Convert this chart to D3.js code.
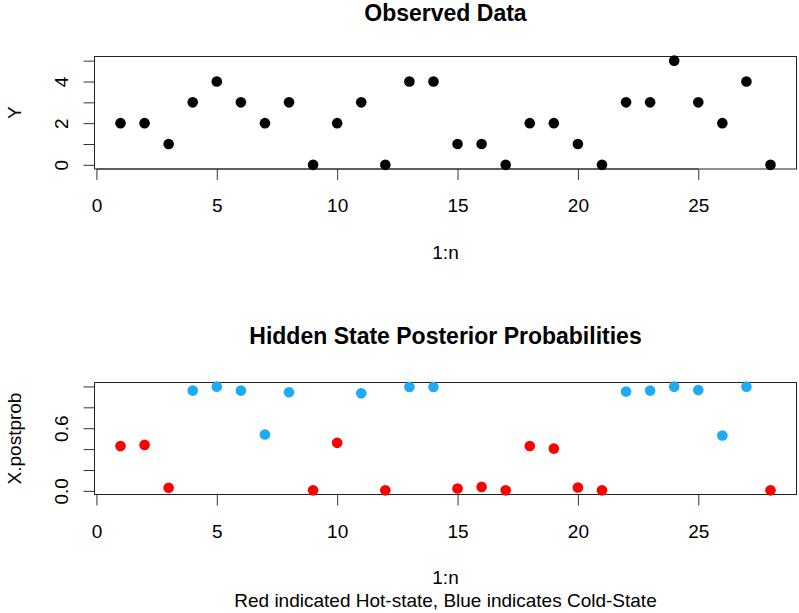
<!DOCTYPE html>
<html>
<head>
<meta charset="utf-8">
<title>Observed Data / Hidden State Posterior Probabilities</title>
<style>
body {
  margin: 0;
  background: #fff;
  font-family: "Liberation Sans", Arial, sans-serif;
}

svg {
  display: block;
}

.axis path, .axis line {
  stroke: #333;
  stroke-width: 1px;
}

.axis text {
  font-size: 19px;
  fill: #000;
}

.frame {
  fill: none;
  stroke: #222;
  stroke-width: 1px;
}
</style>
<script src="https://d3js.org/d3.v7.min.js"></script>
</head>
<body>
<script>
// observed emissions, t = 1..n
const obsY = [2, 2, 1, 3, 4, 3, 2, 3, 0, 2, 3, 0, 4, 4, 1, 1, 0, 2, 2, 1, 0, 3, 3, 5, 3, 2, 4, 0];

// posterior prob of decoded state
const postProb = [0.43, 0.44, 0.03, 0.96, 0.998, 0.96, 0.54, 0.945, 0.005, 0.46,
  0.935, 0.005, 0.995, 0.995, 0.023, 0.038, 0.005, 0.43, 0.405, 0.032,
  0.005, 0.952, 0.96, 0.998, 0.965, 0.53, 0.998, 0.005];

// decoded state: H = hot (red), C = cold (blue)
const states = ['H', 'H', 'H', 'C', 'C', 'C', 'C', 'C', 'H', 'H',
  'C', 'H', 'C', 'C', 'H', 'H', 'H', 'H', 'H', 'H',
  'H', 'C', 'C', 'C', 'C', 'C', 'C', 'H'];

const xTicks = [0, 5, 10, 15, 20, 25];
const yTicksTop = [0, 1, 2, 3, 4, 5];
const yLabelsTop = [0, 2, 4];
const yTicksBot = [0, 0.2, 0.4, 0.6, 0.8, 1.0];
const yLabelsBot = [0, 0.6];

const stateColor = { H: '#ff0000', C: '#1faaf3' };

const width = 799,
  height = 613,
  left = 94.5,
  right = 796.5,
  tickLen = 11,
  dotR = 5.3;

const svg = d3.select('body').append('svg')
  .attr('width', width)
  .attr('height', height);

const n = obsY.length;
const idx = d3.range(1, n + 1);

// R style axis range: data extent padded 4% each side
function rRange(vals) {
  const [lo, hi] = d3.extent(vals);
  const pad = (hi - lo) * 0.04;
  return [lo - pad, hi + pad];
}

const x = d3.scaleLinear().domain(rRange(idx)).range([left, right]);

function panel(opts) {
  const y = d3.scaleLinear().domain(rRange(opts.values)).range([opts.bottom, opts.top]);
  const g = svg.append('g');

  // x axis
  g.append('g')
    .attr('class', 'axis')
    .attr('transform', 'translate(0,' + opts.bottom + ')')
    .call(d3.axisBottom(x).tickValues(xTicks).tickSize(tickLen).tickSizeOuter(0))
    .call(a => a.select('.domain').attr('d', 'M' + x(xTicks[0]) + ',0H' + x(xTicks[xTicks.length - 1])))
    .selectAll('text')
      .attr('y', 36.5)
      .attr('dy', null)
      .attr('dominant-baseline', 'central');

  // y axis, labels rotated like R's las = 0
  g.append('g')
    .attr('class', 'axis')
    .attr('transform', 'translate(' + left + ',0)')
    .call(d3.axisLeft(y).tickValues(opts.yTicks).tickSize(tickLen).tickSizeOuter(0)
      .tickFormat(d => opts.yLabels.includes(d) ? opts.fmt(d) : ''))
    .call(a => a.select('.domain').attr('d', 'M0,' + y(opts.yTicks[0]) + 'V' + y(opts.yTicks[opts.yTicks.length - 1])))
    .selectAll('text')
      .attr('x', 0)
      .attr('y', -33.5)
      .attr('dy', null)
      .attr('transform', 'rotate(-90)')
      .attr('text-anchor', 'middle')
      .attr('dominant-baseline', 'central');

  // plot frame
  g.append('rect')
    .attr('class', 'frame')
    .attr('x', left)
    .attr('y', opts.top)
    .attr('width', right - left)
    .attr('height', opts.bottom - opts.top);

  // points
  g.append('g')
    .selectAll('circle')
    .data(opts.values)
    .join('circle')
      .attr('cx', (d, i) => x(idx[i]))
      .attr('cy', d => y(d))
      .attr('r', dotR)
      .attr('fill', (d, i) => opts.color(i));

  // title
  g.append('text')
    .attr('x', (left + right) / 2)
    .attr('y', opts.titleY)
    .attr('text-anchor', 'middle')
    .attr('dominant-baseline', 'central')
    .style('font-size', '23px')
    .style('font-weight', 'bold')
    .text(opts.title);

  // axis titles
  g.append('text')
    .attr('x', (left + right) / 2)
    .attr('y', opts.bottom + 83)
    .attr('text-anchor', 'middle')
    .attr('dominant-baseline', 'central')
    .style('font-size', '19px')
    .text('1:n');

  g.append('text')
    .attr('transform', 'translate(14,' + (opts.top + opts.bottom) / 2 + ') rotate(-90)')
    .attr('text-anchor', 'middle')
    .attr('dominant-baseline', 'central')
    .style('font-size', '19px')
    .text(opts.ylab);

  if (opts.sub) {
    g.append('text')
      .attr('x', (left + right) / 2)
      .attr('y', opts.bottom + 106)
      .attr('text-anchor', 'middle')
      .attr('dominant-baseline', 'central')
      .style('font-size', '19px')
      .text(opts.sub);
  }
}

panel({
  values: obsY,
  top: 56.5,
  bottom: 169,
  titleY: 12.5,
  yTicks: yTicksTop,
  yLabels: yLabelsTop,
  fmt: d3.format('d'),
  color: () => '#000',
  title: 'Observed Data',
  ylab: 'Y'
});

panel({
  values: postProb,
  top: 382.5,
  bottom: 494.5,
  titleY: 335.5,
  yTicks: yTicksBot,
  yLabels: yLabelsBot,
  fmt: d3.format('.1f'),
  color: i => stateColor[states[i]],
  title: 'Hidden State Posterior Probabilities',
  ylab: 'X.postprob',
  sub: 'Red indicated Hot-state, Blue indicates Cold-State'
});
</script>
</body>
</html>
